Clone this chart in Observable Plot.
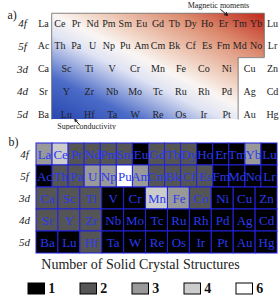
<!DOCTYPE html>
<html><head><meta charset="utf-8">
<script src="https://cdn.jsdelivr.net/npm/d3@7"></script>
<script src="https://cdn.jsdelivr.net/npm/@observablehq/plot@0.6"></script>
<style>
body{margin:0;background:#fff;}
#root{width:280px;height:296px;font-family:"Liberation Serif",serif;}
#root svg{display:block;}
</style></head><body><div id="root"></div>
<script>
const rows = ["4f","5f","3d","4d","5d"];
const row4f = ["La","Ce","Pr","Nd","Pm","Sm","Eu","Gd","Tb","Dy","Ho","Er","Tm","Yb","Lu"];
const row5f = ["Ac","Th","Pa","U","Np","Pu","Am","Cm","Bk","Cf","Es","Fm","Md","No","Lr"];
const row3d = ["Ca","Sc","Ti","V","Cr","Mn","Fe","Co","Ni","Cu","Zn"];
const row4d = ["Sr","Y","Zr","Nb","Mo","Tc","Ru","Rh","Pd","Ag","Cd"];
const row5d = ["Ba","Lu","Hf","Ta","W","Re","Os","Ir","Pt","Au","Hg"];
const count4f = [3,4,2,2,2,2,1,2,2,2,1,1,1,3,1];
const count5f = [1,2,2,3,3,6,3,2,2,2,2,1,1,1,1];
const count3d = [2,2,2,1,1,4,3,2,1,1,1];
const count4d = [2,2,2,1,1,1,1,1,1,1,1];
const count5d = [1,1,2,1,1,1,1,1,1,1,1];
const legendValues = [1,2,3,4,6];
const legendTitle = "Number of Solid Crystal Structures";
const annotations = ["Magnetic moments","Superconductivity"];

const elements = [row4f,row5f,row3d,row4d,row5d];
const counts = [count4f,count5f,count3d,count4d,count5d];
const serif = "Liberation Serif, Times New Roman, serif";

// ---------- panel a ----------
const regionLeft = 0.5/14, regionRightF = 13.5/14, regionRightD = 8.5/10;
const regionTop = -0.45, regionStep = 1.5, regionBottom = 4.2;
function gradientValue(x, y) {
  if (x < regionLeft || y < regionTop || y > regionBottom) return NaN;
  if (y < regionStep ? x > regionRightF : x > regionRightD) return NaN;
  const u = (x - regionLeft) / (regionRightF - regionLeft);
  const v = (y - regionTop) / (regionBottom - regionTop);
  return (u + 1 - v) / 2;
}
const outline = [
  {x: regionLeft, y: regionBottom}, {x: regionLeft, y: regionTop},
  {x: regionRightF, y: regionTop}, {x: regionRightF, y: regionStep},
  {x: regionRightD, y: regionStep}, {x: regionRightD, y: regionBottom}
];
const cellsA = rows.flatMap((r, ri) => elements[ri].map((e, i) => ({row: ri, x: i / (elements[ri].length - 1), name: e})));

const plotA = Plot.plot({
  width: 280, height: 130, marginLeft: 43, marginRight: 8, marginTop: 23, marginBottom: 16,
  x: {domain: [0, 1], axis: null},
  y: {domain: [0, 4], reverse: true, axis: null},
  color: {type: "linear", domain: [0, 0.2, 0.4, 0.5, 0.6, 0.8, 1],
    range: ["#2846b0", "#4c6cc8", "#dfe3f3", "#faf6f4", "#f1d3c3", "#dc8a6e", "#c0281c"], clamp: true},
  style: {fontFamily: serif, background: "white"},
  marks: [
    Plot.raster({fill: gradientValue, x1: regionLeft, x2: regionRightF, y1: regionTop, y2: regionBottom, pixelSize: 1}),
    Plot.line(outline, {x: "x", y: "y", stroke: "#666", strokeWidth: 0.8}),
    Plot.text(cellsA, {x: "x", y: "row", text: "name", fontSize: 10, fill: "#222"}),
    Plot.text(rows, {x: 0, y: (d, i) => i, text: d => d, dx: -21, fontStyle: "italic", fontSize: 11, fill: "#222"}),
    Plot.text(["a)"], {frameAnchor: "top-left", dx: -36, dy: -13, fontSize: 12, fill: "#222"}),
    Plot.text([annotations[0]], {x: 0.764, y: -0.79, fontSize: 8, fill: "#222"}),
    Plot.arrow([{x1: 0.773, y1: -0.62, x2: 0.803, y2: -0.36}], {x1: "x1", y1: "y1", x2: "x2", y2: "y2", stroke: "#111", strokeWidth: 1, headLength: 5}),
    Plot.text([annotations[1]], {x: 0.188, y: 4.53, fontSize: 8, fill: "#222"}),
    Plot.arrow([{x1: 0.157, y1: 4.45, x2: 0.137, y2: 4.22}], {x1: "x1", y1: "y1", x2: "x2", y2: "y2", stroke: "#111", strokeWidth: 1, headLength: 5})
  ]
});

// ---------- panel b ----------
const cellsB = rows.flatMap((r, ri) => elements[ri].map((e, i) => ({
  row: r, x1: i / elements[ri].length, x2: (i + 1) / elements[ri].length, name: e, n: counts[ri][i]
})));
const colorB = {type: "ordinal", domain: legendValues, range: ["#000000", "#555555", "#999999", "#cccccc", "#ffffff"]};

const plotB = Plot.plot({
  width: 280, height: 126, marginLeft: 36, marginRight: 3, marginTop: 12, marginBottom: 3,
  x: {domain: [0, 1], axis: null},
  y: {domain: rows, padding: 0, axis: null},
  color: colorB,
  style: {fontFamily: serif, background: "white"},
  marks: [
    Plot.barX(cellsB, {x1: "x1", x2: "x2", y: "row", fill: "n", stroke: "#2222e0", strokeWidth: 1, inset: 0}),
    Plot.text(cellsB, {x: d => (d.x1 + d.x2) / 2, y: "row", text: "name", fill: "#2a3af2", fontSize: 13}),
    Plot.text(rows, {x: 0, y: d => d, text: d => d, dx: -12, fontStyle: "italic", fontSize: 11, fill: "#222"}),
    Plot.text(["b)"], {frameAnchor: "top-left", dx: -28, dy: -5, fontSize: 12, fill: "#222"})
  ]
});

// ---------- legend ----------
const plotL = Plot.plot({
  width: 280, height: 40, marginLeft: 0, marginRight: 0, marginTop: 27, marginBottom: 2,
  x: {type: "band", domain: legendValues, range: [27, 289.5], padding: 0, axis: null},
  y: {domain: [0, 1], axis: null},
  color: colorB,
  style: {fontFamily: serif, background: "white"},
  marks: [
    Plot.barY(legendValues, {x: d => d, y1: 0, y2: 1, fill: d => d, stroke: "#000", strokeWidth: 1, insetLeft: 0, insetRight: 52.5 - 17}),
    Plot.text(legendValues, {x: d => d, y: 0.5, text: d => String(d), dx: -6.25, textAnchor: "start", fontWeight: "bold", fontSize: 14, fill: "#111"}),
    Plot.text([legendTitle], {frameAnchor: "top", dy: -19, lineAnchor: "middle", fontSize: 14, fill: "#222"})
  ]
});

const root = document.getElementById("root");
root.append(plotA, plotB, plotL);
</script>
</body></html>
